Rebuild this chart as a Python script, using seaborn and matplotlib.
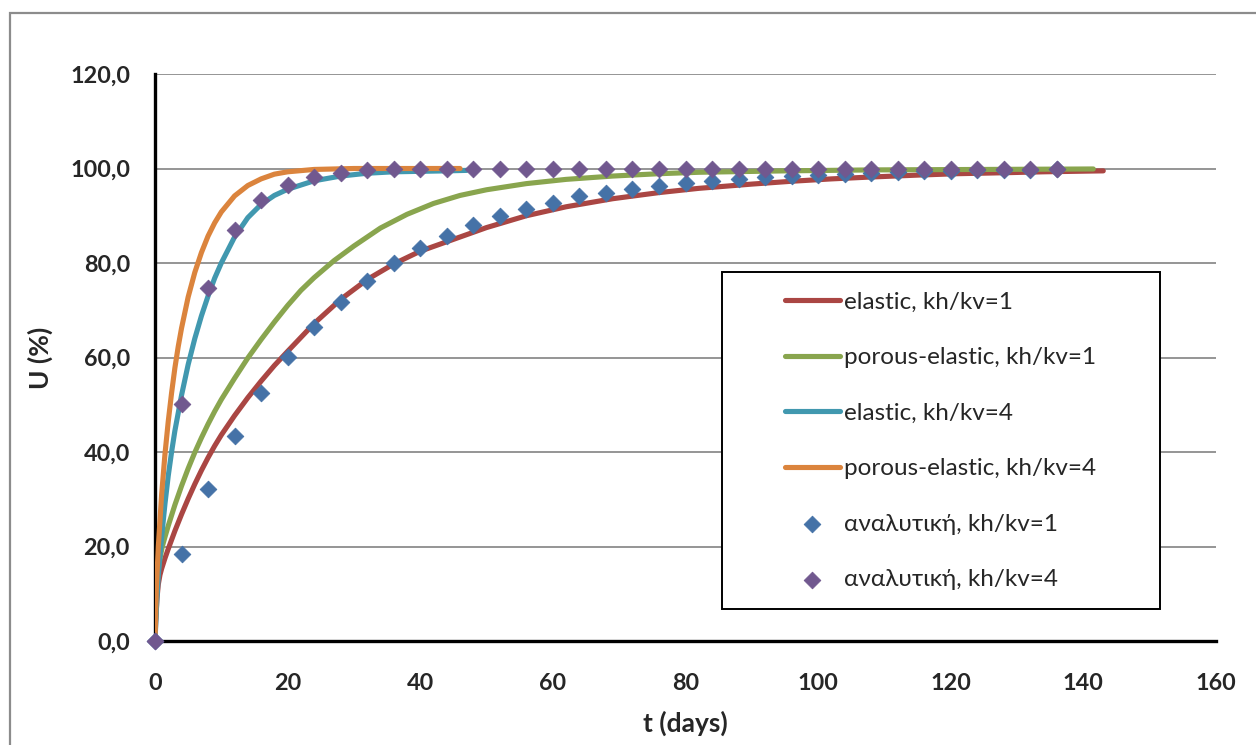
import matplotlib
matplotlib.use("Agg")
import matplotlib.pyplot as plt
from matplotlib.patches import Rectangle
from matplotlib.ticker import FuncFormatter
import seaborn as sns
import pandas as pd

# ---------------- data ----------------
t_el1 = [0, 0.1, 0.3, 0.5, 0.75, 1, 1.5, 2, 3, 4, 5, 6, 7, 8, 9, 10, 12, 14, 16, 18, 20,
         24, 28, 32, 36, 40, 44, 50, 56, 62, 69, 76, 82, 90, 96, 102, 108, 115, 121, 128, 134, 143]
u_el1 = [0, 4, 9, 12, 14, 15.3, 17.5, 19.5, 23.3, 26.8, 30.1, 33.2, 36.1, 38.8, 41.3, 43.6, 47.7, 51.5, 55.0, 58.3, 61.3,
         67.2, 72.3, 76.5, 79.8, 82.5, 84.5, 87.5, 90.0, 91.9, 93.6, 94.9, 95.8, 96.7, 97.3, 97.8, 98.2, 98.6, 98.9, 99.1, 99.3, 99.5]

t_pe1 = [0, 0.1, 0.25, 0.5, 0.75, 1.1, 1.5, 2, 3, 4, 5, 6, 7, 8, 9, 10, 12, 14, 16, 18, 20, 22, 24, 27, 30,
         34, 38, 42, 46, 50, 56, 62, 69, 76, 82, 95, 108, 125, 141.5]
u_pe1 = [0, 6, 11, 15, 17.5, 20, 22, 24.4, 28.8, 32.8, 36.5, 39.9, 43, 45.9, 48.6, 51.1, 55.6, 59.9, 63.8, 67.5, 71.0, 74.2, 76.9, 80.5, 83.6,
         87.4, 90.3, 92.6, 94.3, 95.5, 96.8, 97.7, 98.4, 98.9, 99.2, 99.5, 99.7, 99.8, 99.9]

t_el4 = [0, 0.25, 0.5, 1, 1.5, 2, 2.5, 3, 4, 5, 6, 7, 8, 9, 10, 12, 14, 16, 18, 20, 24, 28, 32, 36, 40, 44, 47]
u_el4 = [0, 8, 14, 22, 29, 35, 40, 44.5, 52, 58.5, 64, 68.8, 73, 76.8, 80, 85.5, 89.6, 92.4, 94.3, 95.6, 97.4, 98.4, 99.0, 99.3, 99.4, 99.5, 99.6]

t_pe4 = [0, 0.2, 0.5, 1, 1.5, 2, 2.5, 3, 3.5, 4, 5, 6, 7, 8, 9, 10, 12, 14, 16, 18, 20, 24, 30, 46]
u_pe4 = [0, 11, 20, 31, 39.5, 46.5, 52.5, 57.8, 62.3, 66.2, 72.8, 78, 82.2, 85.7, 88.5, 90.8, 94.2, 96.4, 97.8, 98.8, 99.3, 99.8, 100, 100]

t_an = [0, 4, 8, 12, 16, 20, 24, 28, 32, 36, 40, 44, 48, 52, 56, 60, 64, 68, 72, 76, 80, 84, 88,
        92, 96, 100, 104, 108, 112, 116, 120, 124, 128, 132, 136]
u_an1 = [0, 18.5, 32.2, 43.3, 52.5, 60.1, 66.5, 71.8, 76.1, 80.0, 83.1, 85.8, 88.0, 89.9, 91.5, 92.8, 94.1, 94.9, 95.6, 96.3, 97.0, 97.4, 97.8,
         98.2, 98.4, 98.7, 98.9, 99.1, 99.2, 99.4, 99.5, 99.6, 99.6, 99.7, 99.8]
u_an4 = [0, 50.2, 74.7, 87.0, 93.3, 96.6, 98.2, 99.1, 99.6, 99.8, 99.9, 99.9, 100, 100, 100, 100, 100, 100, 100, 100, 100, 100, 100,
         100, 100, 100, 100, 100, 100, 100, 100, 100, 100, 100, 100]

labels = ["elastic, kh/kv=1", "porous-elastic, kh/kv=1", "elastic, kh/kv=4",
          "porous-elastic, kh/kv=4", "αναλυτική, kh/kv=1", "αναλυτική, kh/kv=4"]
colors = ["#AA4643", "#89A54E", "#4198AF", "#DB843D", "#4572A7", "#71588F"]
x_ticks = [0, 20, 40, 60, 80, 100, 120, 140, 160]
y_ticks = [0, 20, 40, 60, 80, 100, 120]

# ---------------- style ----------------
sns.set_style("white")
plt.rcParams["font.family"] = ["Lato", "DejaVu Sans"]

fig = plt.figure(figsize=(12.56, 7.45), dpi=100)
W, H = 1256, 745
ax = fig.add_axes([155 / W, 1 - 641 / H, 1061 / W, 567 / H])

# outer chart-area frame
fig.add_artist(Rectangle((10 / W, -0.2), 1.5, 1.2 - 13 / H, transform=fig.transFigure,
                         fill=False, ec="#8c8c8c", lw=1.6, zorder=0))

lines = [(t_el1, u_el1), (t_pe1, u_pe1), (t_el4, u_el4), (t_pe4, u_pe4)]
for (tt, uu), lab, col in zip(lines, labels[:4], colors[:4]):
    df = pd.DataFrame({"t": tt, "U": uu})
    sns.lineplot(data=df, x="t", y="U", ax=ax, color=col, lw=3.7, label=lab,
                 sort=False, estimator=None, solid_capstyle="round", zorder=3)

for uu, lab, col in zip([u_an1, u_an4], labels[4:], colors[4:]):
    df = pd.DataFrame({"t": t_an, "U": uu})
    sns.scatterplot(data=df, x="t", y="U", ax=ax, color=col, marker="D", s=72,
                    linewidth=0.6, edgecolor=col, label=lab, zorder=4, clip_on=False)

ax.set_xlim(0, 160)
ax.set_ylim(0, 120)
ax.set_xticks(x_ticks)
ax.set_yticks(y_ticks)
ax.yaxis.set_major_formatter(FuncFormatter(lambda v, p: f"{v:.1f}".replace(".", ",")))
ax.grid(axis="y", color="#8c8c8c", lw=1.3)
ax.grid(axis="x", visible=False)
ax.set_axisbelow(True)

for s in ["top", "right"]:
    ax.spines[s].set_visible(False)
for s in ["left", "bottom"]:
    ax.spines[s].set_color("black")
    ax.spines[s].set_linewidth(2.4)
    ax.spines[s].set_zorder(2)

ax.tick_params(axis="both", length=0, labelsize=16.8)
ax.tick_params(axis="y", pad=18)
ax.tick_params(axis="x", pad=23)
for lbl in ax.get_xticklabels() + ax.get_yticklabels():
    lbl.set_fontweight("bold")

ax.set_xlabel("t (days)", fontsize=19, fontweight="bold", labelpad=12)
ax.set_ylabel("U (%)", fontsize=19, fontweight="bold", labelpad=12)

# legend
handles, labs = ax.get_legend_handles_labels()
leg = ax.legend(handles, labs, loc="center left", bbox_to_anchor=((785 - 155) / 1061, (641 - 441) / 567),
                frameon=False, fontsize=17.5, handlelength=2.25, handletextpad=0.17,
                labelspacing=1.42, borderpad=0, borderaxespad=0, markerscale=1.0)
ax.add_patch(Rectangle(((722 - 155) / 1061, (641 - 609) / 567), (1160 - 722) / 1061, (609 - 272) / 567,
                       transform=ax.transAxes, fill=True, fc="white", ec="black", lw=1.4, zorder=5))
leg.set_zorder(6)

fig.savefig("out.png", dpi=100)
